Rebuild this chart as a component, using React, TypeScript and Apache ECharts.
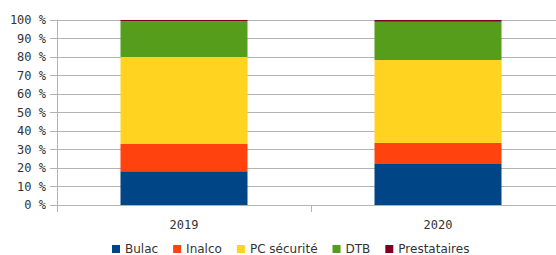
import React, { useEffect, useRef } from "react";
import * as echarts from "echarts";

const categories = ["2019", "2020"];
const seriesNames = ["Bulac", "Inalco", "PC sécurité", "DTB", "Prestataires"];
const bulac = [18.3, 22.2];
const inalco = [14.7, 11.3];
const pcSecurite = [47.0, 44.9];
const dtb = [19.3, 20.7];
const prestataires = [0.7, 0.9];
const colors = ["#004586", "#ff420e", "#ffd320", "#579d1c", "#7e0021"];
const yTicks = [0, 10, 20, 30, 40, 50, 60, 70, 80, 90, 100];

export default function App() {
  const ref = useRef<HTMLDivElement>(null);
  useEffect(() => {
    if (!ref.current) return;
    const chart = echarts.init(ref.current, null, { renderer: "svg" });
    const values = [bulac, inalco, pcSecurite, dtb, prestataires];
    chart.setOption({
      animation: false,
      textStyle: { fontFamily: "DejaVu Sans" },
      grid: { left: 57, top: 20, right: 0, height: 185 },
      legend: {
        top: 238,
        left: 107,
        itemWidth: 8,
        itemHeight: 8,
        itemGap: 15,
        icon: "rect",
        textStyle: { fontSize: 12, color: "#333", fontFamily: "DejaVu Sans" },
        data: seriesNames,
      },
      xAxis: {
        type: "category",
        data: categories,
        axisLine: { lineStyle: { color: "#b3b3b3", width: 1 } },
        axisTick: { show: true, length: 7, alignWithLabel: false, lineStyle: { color: "#b3b3b3" } },
        axisLabel: { fontSize: 12, color: "#333", margin: 14, fontFamily: "DejaVu Sans Mono" },
      },
      yAxis: {
        type: "value",
        min: 0,
        max: 100,
        interval: 10,
        axisLine: { show: true, lineStyle: { color: "#b3b3b3" } },
        axisTick: { show: true, length: 7, lineStyle: { color: "#b3b3b3" } },
        splitLine: { lineStyle: { color: "#b3b3b3" } },
        axisLabel: {
          fontSize: 12,
          color: "#333",
          margin: 11,
          fontFamily: "DejaVu Sans Mono",
          formatter: (v: number) => (yTicks.includes(v) ? v + " %" : ""),
        },
      },
      series: seriesNames.map((name, i) => ({
        name,
        type: "bar",
        stack: "total",
        barWidth: "50%",
        itemStyle: { color: colors[i] },
        data: values[i],
      })),
    });
    return () => chart.dispose();
  }, []);
  return (
    <div style={{ width: 556, height: 255, position: "absolute", left: 0, top: 0, overflow: "hidden" }}>
      <div ref={ref} style={{ width: 565, height: 255 }} />
    </div>
  );
}
